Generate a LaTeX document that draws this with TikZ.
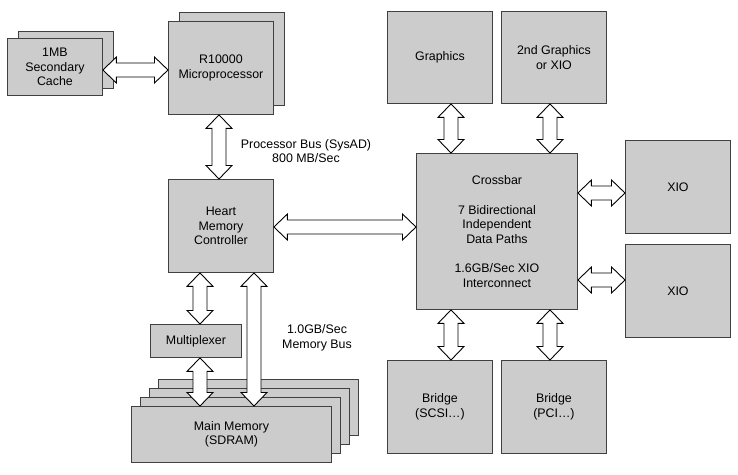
\documentclass[tikz,border=0pt]{standalone}
\usepackage{fontspec}
\setmainfont{Liberation Sans}
\usetikzlibrary{calc}
\tikzset{
  box/.style={draw=black!75, fill=black!20, line width=0.9pt, inner sep=0pt,
    anchor=north west, align=center, font=\fontsize{12.4}{14.5}\selectfont},
  dblarrow/.style={draw=black, fill=white, line width=0.9pt, line join=miter},
  lbl/.style={align=center, font=\fontsize{12.4}{14.5}\selectfont}
}
% vertical double block arrow at x=#1 between anchors #2 (top) and #3 (bottom)
\newcommand\vdbl[3]{%
  \path[dblarrow] let \p1=(#2), \p2=(#3), \p3=(#1,0) in
    (\x3,\y1) -- ({\x3+13pt},{\y1-13.5pt}) -- ({\x3+7pt},{\y1-13.5pt})
    -- ({\x3+7pt},{\y2+13.5pt}) -- ({\x3+13pt},{\y2+13.5pt}) -- (\x3,\y2)
    -- ({\x3-13pt},{\y2+13.5pt}) -- ({\x3-7pt},{\y2+13.5pt})
    -- ({\x3-7pt},{\y1-13.5pt}) -- ({\x3-13pt},{\y1-13.5pt}) -- cycle;}
% horizontal double block arrow at y=#1 between anchors #2 (left) and #3 (right)
\newcommand\hdbl[3]{%
  \path[dblarrow] let \p1=(#2), \p2=(#3), \p3=(0,#1) in
    (\x1,\y3) -- ({\x1+13.5pt},{\y3+13pt}) -- ({\x1+13.5pt},{\y3+7pt})
    -- ({\x2-13.5pt},{\y3+7pt}) -- ({\x2-13.5pt},{\y3+13pt}) -- (\x2,\y3)
    -- ({\x2-13.5pt},{\y3-13pt}) -- ({\x2-13.5pt},{\y3-7pt})
    -- ({\x1+13.5pt},{\y3-7pt}) -- ({\x1+13.5pt},{\y3-13pt}) -- cycle;}
\begin{document}
\begin{tikzpicture}[x=1pt,y=-1pt]
\useasboundingbox (0,0) rectangle (738,474);
% cache
\node[box, minimum width=95pt, minimum height=57pt] (cacheB) at (18,31) {};
\node[box, minimum width=95pt, minimum height=57pt] (cache) at (7,38) {1MB\\Secondary\\Cache};
% cpu
\node[box, minimum width=105pt, minimum height=93pt] (cpuB) at (179,12) {};
\node[box, minimum width=105pt, minimum height=93pt] (cpu) at (168,21) {R10000\\Microprocessor};
% heart
\node[box, minimum width=105pt, minimum height=93pt] (heart) at (168,179) {Heart\\Memory\\Controller};
% multiplexer
\node[box, minimum width=91pt, minimum height=33pt] (mux) at (150,324) {Multiplexer};
% main memory stack
\node[box, minimum width=200pt, minimum height=56pt] (memD) at (158,379) {};
\node[box, minimum width=200pt, minimum height=56pt] (memC) at (149,388) {};
\node[box, minimum width=200pt, minimum height=56pt] (memB) at (140,397) {};
\node[box, minimum width=200pt, minimum height=56pt] (mem) at (131,406) {Main Memory\\(SDRAM)};
% right side
\node[box, minimum width=105pt, minimum height=92pt] (gfx) at (387,11) {Graphics};
\node[box, minimum width=105pt, minimum height=92pt] (gfx2) at (501,11) {2nd Graphics\\or XIO};
\node[box, minimum width=161pt, minimum height=156pt] (xbar) at (416,153)
  {Crossbar\\[15pt]7 Bidirectional\\Independent\\Data Paths\\[15pt]1.6GB/Sec XIO\\Interconnect};
\node[box, minimum width=105pt, minimum height=93pt] (xio1) at (625,140) {XIO};
\node[box, minimum width=105pt, minimum height=93pt] (xio2) at (625,244) {XIO};
\node[box, minimum width=105pt, minimum height=93pt] (brs) at (387,360) {Bridge\\(SCSI\ldots)};
\node[box, minimum width=105pt, minimum height=93pt] (brp) at (501,360) {Bridge\\(PCI\ldots)};
% labels
\node[lbl] (pbus) at (306,151) {Processor Bus (SysAD)\\800 MB/Sec};
\node[lbl] (mbus) at (317,338) {1.0GB/Sec\\Memory Bus};
% arrows
\hdbl{70}{cache.east}{cpu.west}
\vdbl{219}{cpu.south}{heart.north}
\hdbl{227}{heart.east}{xbar.west}
\vdbl{200}{heart.south}{mux.north}
\vdbl{200}{mux.south}{mem.north}
\vdbl{254}{heart.south}{mem.north}
\vdbl{451}{gfx.south}{xbar.north}
\vdbl{550}{gfx2.south}{xbar.north}
\vdbl{451}{xbar.south}{brs.north}
\vdbl{550}{xbar.south}{brp.north}
\hdbl{193}{xbar.east}{xio1.west}
\hdbl{280}{xbar.east}{xio2.west}
\end{tikzpicture}
\end{document}
